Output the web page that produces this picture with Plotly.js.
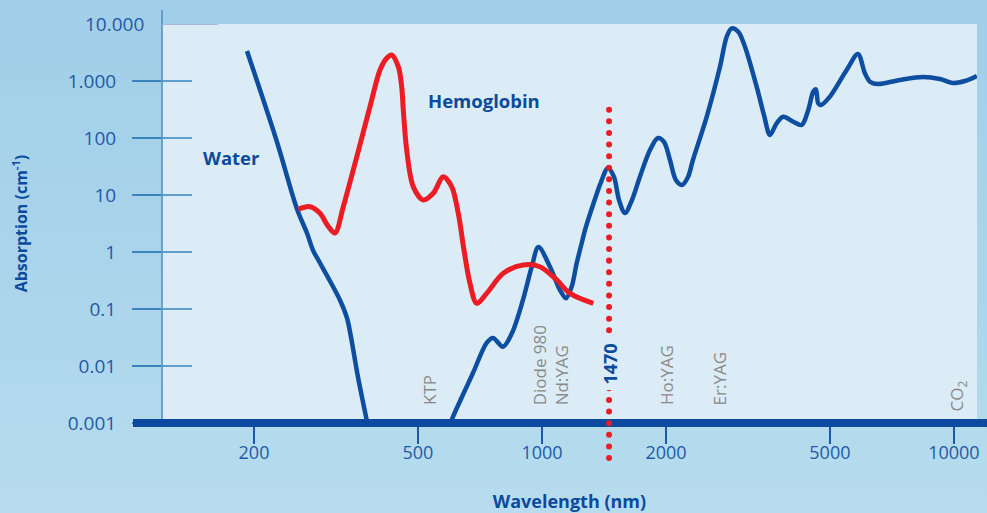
<!DOCTYPE html>
<html>
<head>
<meta charset="utf-8">
<script src="https://cdn.plot.ly/plotly-3.0.1.min.js"></script>
<style>
  html, body { margin: 0; padding: 0; }
  body { width: 987px; height: 513px; overflow: hidden;
         background: linear-gradient(180deg, #a1cee9 0%, #aad4eb 50%, #b7dcee 100%); }
  #chart { width: 987px; height: 513px; }
</style>
</head>
<body>
<div id="chart"></div>
<script>
// ---- data (wavelength in nm, absorption in 1/cm) ----
const waterWavelength = [192.3, 227.4, 254.3, 268.9, 278.0, 289.2, 305.8, 323.3, 336.3, 343.9, 357.6, 375.4, 380.3,
  581.7, 603.7, 639.3, 680.0, 734.2, 760.5, 804.2, 845.7, 899.2, 944.1, 980.6, 1045.7, 1106, 1143.6, 1180.6, 1214,
  1248.6, 1271.8, 1330, 1391, 1446, 1495.6, 1538, 1590.6, 1654, 1729, 1829, 1912, 1978, 2045, 2114, 2187, 2262, 2325, 2510, 2704,
  2808, 2886, 2996, 3110, 3320, 3458, 3576, 3712, 3852, 4074, 4269, 4430, 4555, 4624, 4684, 4755, 5000, 5490,
  5848, 6081, 6254, 6539, 7392, 8409, 9248, 9944, 10634, 11369];
const waterAbsorption = [3360, 85.1, 5.68, 2.15, 1.08, 0.641, 0.310, 0.144, 0.0695, 0.0323, 0.00641, 0.00113, 0.000695,
  0.000504, 0.00113, 0.00286, 0.00754, 0.0254, 0.031, 0.0218, 0.0379, 0.144, 0.546, 1.22, 0.552, 0.215, 0.154, 0.246, 0.634,
  1.42, 2.43, 6.68, 16.9, 29.8, 20.7, 8.17, 4.83, 8.17, 20.9, 61.6, 100, 85.1, 41.1, 18.3, 15.0, 20.7, 41.1, 233.5, 1760,
  5984, 8408, 7325, 3998, 794, 253.6, 113, 181, 236, 193, 169, 310, 649, 714, 406, 379, 531, 1560,
  2977, 1365, 973, 885, 1042, 1175, 1084, 923, 1000, 1225];

const hemoWavelength = [256.1, 273.5, 289.2, 302.4, 314.5, 329.4, 355.6, 382.4, 404.5, 419.8, 431.8, 448.0, 456.6, 460.7, 469.5, 487.1,
  515.1, 544.7, 576.0, 603.7, 626.4, 646.7, 668.7, 694.3, 734.2, 805.6, 900.7, 988.8, 1086, 1169.5, 1332];
const hemoAbsorption = [5.61, 6.23, 4.78, 2.86, 2.15, 6.23, 48.3, 354, 1560, 2500, 2857, 1782, 794, 310, 61.5, 14.0,
  8.17, 10.7, 20.9, 14.0, 4.78, 1.08, 0.282, 0.126, 0.188, 0.423, 0.592, 0.552, 0.323, 0.188, 0.126];

const xTickVals = [200, 500, 1000, 2000, 5000, 10000];
const xTickText = ['200', '500', '1000', '2000', '5000', '10000'];
const yTickVals = [0.001, 0.01, 0.1, 1, 10, 100, 1000];
const yTickText = ['0.001', '0.01', '0.1', '1', '10', '100', '1.000'];
const yTopTickVal = 10000;
const yTopTickText = '10.000';

// laser label texts and where they sit (nm, absorption at text start)
const laserLabels = ['KTP', 'Diode 980<br>Nd:YAG', 'Ho:YAG', 'Er:YAG', 'CO<sub>2</sub>'];
const laserLabelX = [535, 1054, 2011, 2704, 10226];
const laserLabelY = [0.00191, 0.00191, 0.00191, 0.00191, 0.0015];
const markerWavelength = 1455;   // the "1470" dotted line
const markerLabel = '1470';

// ---- styling ----
const FONT = 'Open Sans, Noto Sans, sans-serif';
const DARK = '#0c4a9d';
const TICKTXT = '#1f5aa6';
const PLOTBG = '#dbecf6';
const L = Math.log10;

const traces = [
  { x: waterWavelength, y: waterAbsorption, type: 'scatter', mode: 'lines',
    line: { color: '#0d4ea0', width: 4.5, shape: 'spline', smoothing: 0.9 }, hoverinfo: 'skip', name: 'Water' },
  { x: hemoWavelength, y: hemoAbsorption, type: 'scatter', mode: 'lines',
    line: { color: '#ec1c24', width: 5, shape: 'spline', smoothing: 0.9 }, hoverinfo: 'skip', name: 'Hemoglobin' }
];

const plotW = 987 - 162 - 10, plotH = 513 - 24 - 90;

const shapes = [];
// y axis line (extends slightly above plot)
shapes.push({ type: 'line', xref: 'paper', yref: 'paper', x0: 0, x1: 0, y0: 0, y1: 1 + 14 / plotH,
  line: { color: '#4a8fc3', width: 1.5 } });
// inner halves of the y ticks
yTickVals.forEach(v => shapes.push({ type: 'line', xref: 'paper', yref: 'y', x0: 0, x1: 30 / plotW,
  y0: v, y1: v, line: { color: '#3a84be', width: 1.5 } }));
// top tick (lighter)
shapes.push({ type: 'line', xref: 'paper', yref: 'y', x0: 0, x1: 56 / plotW, y0: yTopTickVal, y1: yTopTickVal,
  line: { color: '#a3b9dc', width: 2 } });
// thick x axis
shapes.push({ type: 'line', xref: 'paper', yref: 'paper', x0: -29 / plotW, x1: 1 + 12 / plotW, y0: 0, y1: 0,
  line: { color: '#0b4a9e', width: 8 } });
// dotted 1470 line
const dotIndex = shapes.length;
shapes.push({ type: 'line', xref: 'x', yref: 'paper', x0: markerWavelength, x1: markerWavelength,
  y0: -35 / plotH, y1: (423 - 102) / plotH, line: { color: '#ec1c24', width: 6, dash: 'dot' } });

const annotations = [
  { xref: 'paper', yref: 'y', x: -16 / plotW, y: L(yTopTickVal), text: yTopTickText, showarrow: false,
    xanchor: 'right', yanchor: 'middle', font: { family: FONT, size: 19, color: TICKTXT } },
  { xref: 'x', yref: 'y', x: L(176), y: L(46.4), text: '<b>Water</b>', showarrow: false,
    xanchor: 'center', yanchor: 'middle', font: { family: FONT, size: 18.5, color: DARK } },
  { xref: 'x', yref: 'y', x: L(723), y: L(464), text: '<b>Hemoglobin</b>', showarrow: false,
    xanchor: 'center', yanchor: 'middle', font: { family: FONT, size: 18.5, color: DARK } },
  { xref: 'x', yref: 'y', x: L(markerWavelength), y: L(0.00364), text: '<b>' + markerLabel + '</b>', showarrow: false,
    textangle: -90, xanchor: 'center', yanchor: 'bottom', bgcolor: PLOTBG, borderpad: 5,
    font: { family: FONT, size: 18, color: DARK } }
];
laserLabels.forEach((t, i) => annotations.push({ xref: 'x', yref: 'y', x: L(laserLabelX[i]), y: L(laserLabelY[i]),
  text: t, showarrow: false, textangle: -90, xanchor: 'center', yanchor: 'bottom', align: 'left',
  font: { family: FONT, size: 17, color: '#8a8a8a' } }));

const layout = {
  width: 987, height: 513,
  margin: { l: 162, r: 10, t: 24, b: 90, pad: 0 },
  paper_bgcolor: 'rgba(0,0,0,0)', plot_bgcolor: PLOTBG,
  showlegend: false,
  xaxis: {
    type: 'log', range: [2.0777, 4.056], tickmode: 'array', tickvals: xTickVals, ticktext: xTickText,
    ticks: 'outside', ticklen: 20, tickwidth: 2, tickcolor: '#1d58a6',
    tickfont: { family: FONT, size: 18, color: TICKTXT }, ticklabelstandoff: -7,
    showgrid: false, zeroline: false, showline: false, automargin: false,
    title: { text: '<b>Wavelength (nm)</b>', font: { family: FONT, size: 18, color: DARK }, standoff: 38 }
  },
  yaxis: {
    type: 'log', range: [-3, 4], tickmode: 'array', tickvals: yTickVals, ticktext: yTickText,
    ticks: 'outside', ticklen: 29, tickwidth: 1.5, tickcolor: '#3a84be',
    tickfont: { family: FONT, size: 19, color: TICKTXT }, ticklabelstandoff: 12,
    showgrid: false, zeroline: false, showline: false, automargin: false,
    title: { text: '<b>Absorption (cm<sup>-1</sup>)</b>', font: { family: FONT, size: 16, color: DARK }, standoff: 36 }
  },
  shapes: shapes,
  annotations: annotations
};

Plotly.newPlot('chart', traces, layout, { staticPlot: true, displayModeBar: false }).then(() => {
  document.querySelectorAll('.shapelayer path').forEach(p => {
    if (p.getAttribute('data-index') === String(dotIndex)) {
      p.style.strokeDasharray = '0.01px 11.6px';
      p.style.strokeLinecap = 'round';
    }
  });
});
</script>
</body>
</html>
